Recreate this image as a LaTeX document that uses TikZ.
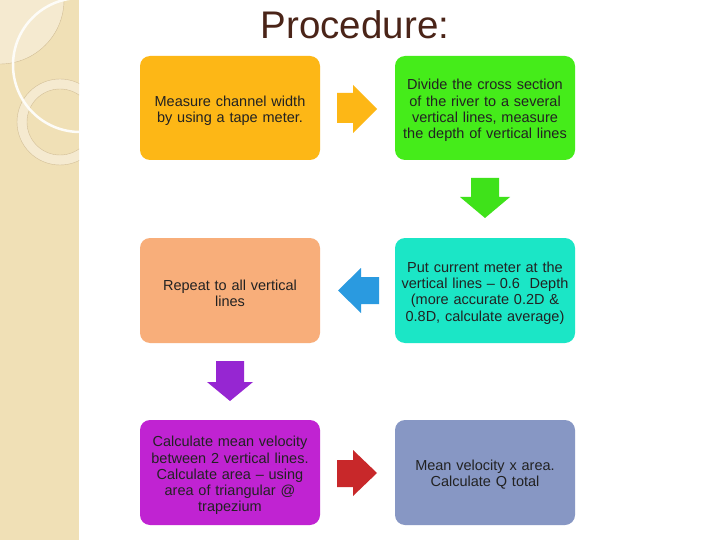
\documentclass[tikz,border=0pt]{standalone}
\usepackage{fontspec}
\setmainfont{Liberation Sans}
\definecolor{stripe}{HTML}{F0E0B6}
\definecolor{stripelight}{HTML}{F5EAD0}
\definecolor{ringline}{HTML}{D2BE96}
\definecolor{titlec}{HTML}{4A2418}
\definecolor{cOrange}{HTML}{FDB716}
\definecolor{cGreen}{HTML}{45EC1A}
\definecolor{cSalmon}{HTML}{F8AE7A}
\definecolor{cTeal}{HTML}{1BE6C6}
\definecolor{cMagenta}{HTML}{C023D2}
\definecolor{cSlate}{HTML}{8797C4}
\definecolor{aOrange}{HTML}{FDB716}
\definecolor{aGreen}{HTML}{3FE21A}
\definecolor{aBlue}{HTML}{2A9AE0}
\definecolor{aPurple}{HTML}{9626D2}
\definecolor{aRed}{HTML}{C8282A}
\definecolor{txt}{HTML}{222222}
\tikzset{
  stepbox/.style={text width=176pt, align=center, inner sep=0pt, text=txt,
    font=\fontsize{14.5}{16.2}\selectfont},
  boxfill/.style={rounded corners=10pt},
}
\begin{document}
\begin{tikzpicture}[x=1pt,y=-1pt]
\useasboundingbox (0,0) rectangle (720,540);
\fill[white] (0,0) rectangle (720,540);
% left stripe
\fill[stripe] (0,0) rectangle (79,540);
\begin{scope}
\clip (0,0) rectangle (79,540);
\fill[stripelight] (0,0) circle (64);
\draw[ringline, line width=0.4pt] (0,0) circle (64);
\fill[stripelight, even odd rule] (60,122) circle (43) (60,122) circle (33);
\draw[ringline, line width=0.4pt] (60,122) circle (43);
\draw[ringline, line width=0.4pt] (60,122) circle (33);
\draw[white!90!stripe, line width=2.5pt] (80,65) circle (67);
\end{scope}
% title
\node[text=titlec, font=\fontsize{38.5}{44}\selectfont] (title) at (355,25) {Procedure:};
% box backgrounds
\fill[boxfill, cOrange]  (140,56)  rectangle (320,160);
\fill[boxfill, cGreen]   (395,56)  rectangle (575,160);
\fill[boxfill, cSalmon]  (140,238) rectangle (320,343);
\fill[boxfill, cTeal]    (395,238) rectangle (575,343);
\fill[boxfill, cMagenta] (140,420) rectangle (320,525);
\fill[boxfill, cSlate]   (395,420) rectangle (575,525);
% box texts
\node[stepbox] (b1) at (230,111) {Measure channel width\\by using a tape meter.};
\node[stepbox] (b2) at (485,110.5) {Divide the cross section\\of the river to a several\\vertical lines, measure\\the depth of vertical lines};
\node[stepbox] (b3) at (230,293) {Repeat to all vertical\\lines};
\node[stepbox] (b4) at (485,293) {Put current meter at the\\vertical lines -- 0.6\ \ Depth\\(more accurate 0.2D \&\\0.8D, calculate average)};
\node[stepbox] (b5) at (230,475.5) {Calculate mean velocity\\between 2 vertical lines.\\Calculate area -- using\\area of triangular @\\trapezium};
\node[stepbox] (b6) at (485,475) {Mean velocity x area.\\Calculate Q total};
% arrows (block arrows)
\fill[aOrange] (337,93) -- (353,93) -- (353,85) -- (377,109) -- (353,133) -- (353,123) -- (337,123) -- cycle;
\fill[aGreen] (471,178) -- (499,178) -- (499,197) -- (510,197) -- (485,218) -- (460,197) -- (471,197) -- cycle;
\fill[aBlue] (379,277) -- (361,277) -- (361,268) -- (338,290.5) -- (361,313) -- (361,304) -- (379,304) -- cycle;
\fill[aPurple] (216,361) -- (244,361) -- (244,382) -- (253,382) -- (230,401) -- (207,382) -- (216,382) -- cycle;
\fill[aRed] (337,460) -- (353,460) -- (353,450) -- (377,473) -- (353,496) -- (353,487) -- (337,487) -- cycle;
\end{tikzpicture}
\end{document}
